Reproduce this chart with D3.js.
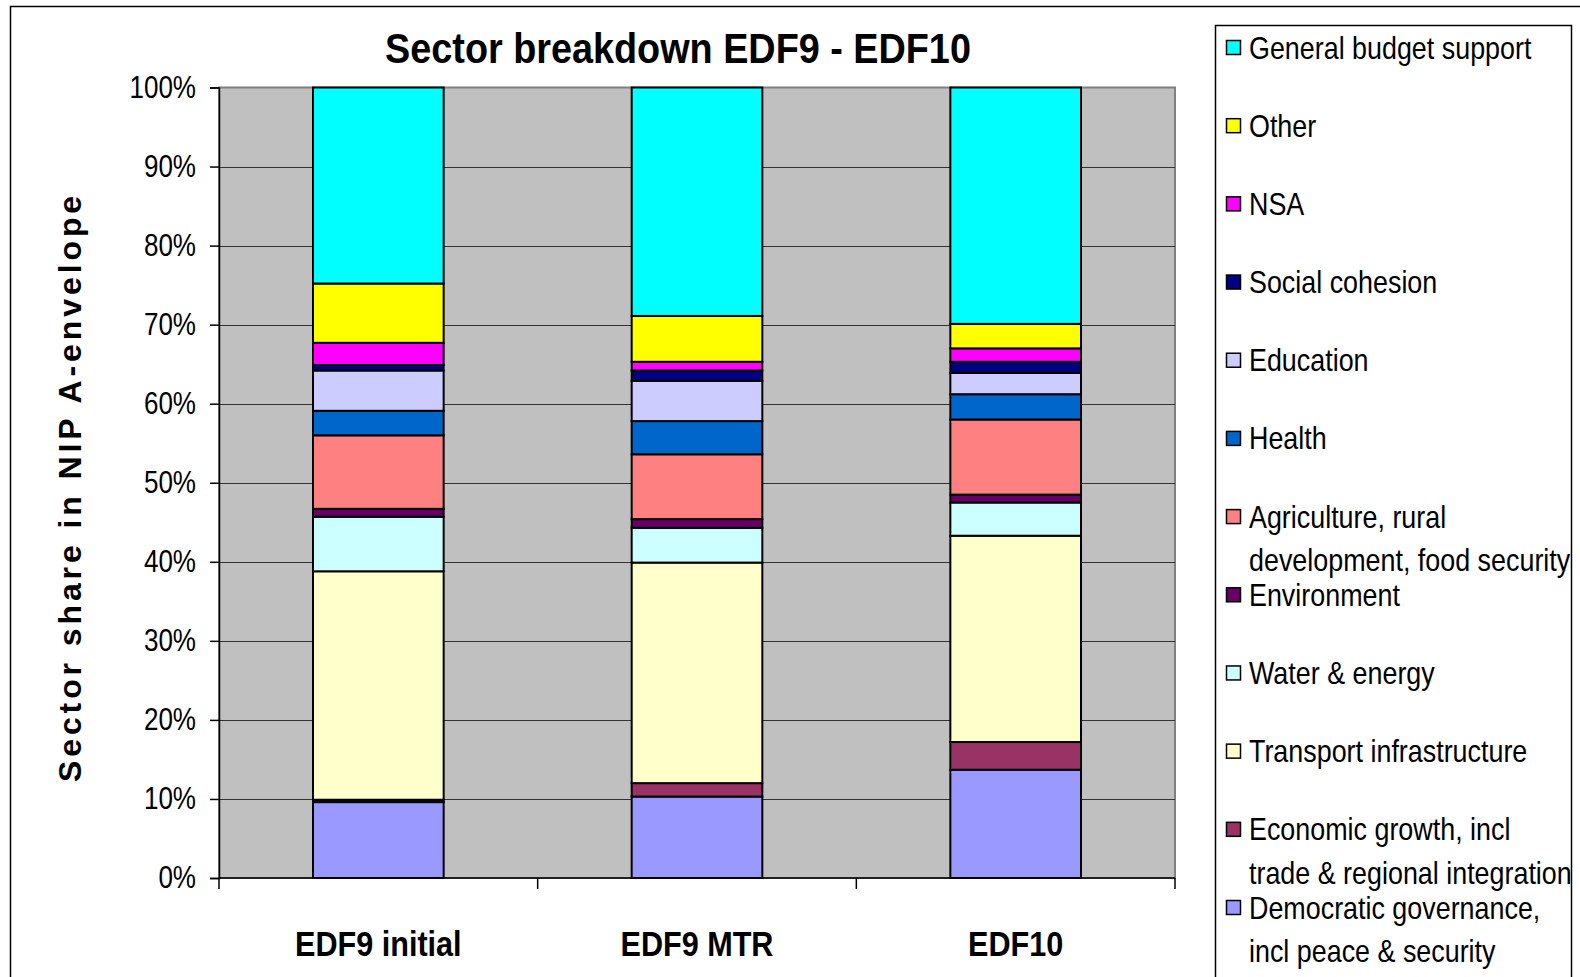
<!DOCTYPE html>
<html>
<head>
<meta charset="utf-8">
<script src="https://cdn.jsdelivr.net/npm/d3@7"></script>
<style>
  body { margin: 0; background: #fff; }
  svg { display: block; }
  text { font-family: "Liberation Sans", Arial, sans-serif; }
</style>
</head>
<body>
<svg width="1580" height="977"></svg>
<script>
const categories = ['EDF9 initial', 'EDF9 MTR', 'EDF10'];

// bottom to top, as stacked
const sectorKeys = ['dem', 'econ', 'transport', 'water', 'env', 'agri', 'health', 'edu', 'social', 'nsa', 'other', 'gbs'];
const sectorLabels = [
    ['Democratic governance,', 'incl peace & security'],
    ['Economic growth, incl', 'trade & regional integration'],
    ['Transport infrastructure'],
    ['Water & energy'],
    ['Environment'],
    ['Agriculture, rural', 'development, food security'],
    ['Health'],
    ['Education'],
    ['Social cohesion'],
    ['NSA'],
    ['Other'],
    ['General budget support']
];
const sectorColors = ['#9999FF', '#993366', '#FFFFCC', '#CCFFFF', '#660066', '#FF8080', '#0066CC', '#CCCCFF', '#000080', '#FF00FF', '#FFFF00', '#00FFFF'];

// share (%) per category
const dem       = [9.6, 10.3, 13.7];
const econ      = [0.3, 1.7, 3.5];
const transport = [28.9, 27.9, 26.1];
const water     = [6.9, 4.4, 4.2];
const env       = [1.0, 1.1, 1.0];
const agri      = [9.3, 8.2, 9.5];
const health    = [3.1, 4.2, 3.2];
const edu       = [5.1, 5.1, 2.7];
const social    = [0.7, 1.3, 1.4];
const nsa       = [2.8, 1.1, 1.7];
const other     = [7.5, 5.8, 3.1];
const gbs       = [24.8, 28.9, 29.9];

const yTicks = [0, 10, 20, 30, 40, 50, 60, 70, 80, 90, 100];

const series = { dem, econ, transport, water, env, agri, health, edu, social, nsa, other, gbs };

const rows = categories.map((cat, i) => {
    let row = { cat: cat };
    sectorKeys.forEach(k => { row[k] = series[k][i]; });
    return row;
});

// no narrow font installed, so squeeze text horizontally
const narrow = 0.84;

const svg = d3.select('svg');

const plot = { left: 219, right: 1175, top: 87.5, bottom: 878 };

// outer chart frame
svg.append('rect')
    .attr('x', 10.5).attr('y', 6.5)
    .attr('width', 1600).attr('height', 1000)
    .attr('fill', 'none')
    .attr('stroke', '#000')
    .attr('stroke-width', 1.5);

const x = d3.scaleBand()
    .domain(categories)
    .range([plot.left, plot.right])
    .paddingInner(0.59)
    .paddingOuter(0.295);

const y = d3.scaleLinear()
    .domain([0, 100])
    .range([plot.bottom, plot.top]);

// plot area
svg.append('rect')
    .attr('x', plot.left).attr('y', plot.top)
    .attr('width', plot.right - plot.left)
    .attr('height', plot.bottom - plot.top)
    .attr('fill', '#C0C0C0')
    .attr('stroke', '#808080')
    .attr('stroke-width', 2);

// gridlines
svg.append('g')
    .selectAll('line')
    .data(yTicks.filter(t => t > 0 && t < 100))
    .enter()
    .append('line')
        .attr('x1', plot.left).attr('x2', plot.right)
        .attr('y1', d => Math.round(y(d)) + 0.5)
        .attr('y2', d => Math.round(y(d)) + 0.5)
        .attr('stroke', '#333')
        .attr('stroke-width', 1);

// stacked bars
const stack = d3.stack().keys(sectorKeys);
const stacked = stack(rows);

svg.append('g')
    .selectAll('g')
    .data(stacked)
    .enter()
    .append('g')
        .attr('fill', (d, i) => sectorColors[i])
    .selectAll('rect')
    .data(d => d)
    .enter()
    .append('rect')
        .attr('x', d => x(d.data.cat))
        .attr('width', x.bandwidth())
        .attr('y', d => y(d[1]))
        .attr('height', d => y(d[0]) - y(d[1]))
        .attr('stroke', '#000')
        .attr('stroke-width', 2);

// y axis
const yAxis = svg.append('g')
    .attr('transform', `translate(${plot.left},0)`)
    .call(d3.axisLeft(y).tickValues(yTicks).tickFormat(d => d + '%').tickSize(9));

yAxis.select('.domain').attr('stroke', '#000').attr('stroke-width', 1.5);
yAxis.selectAll('.tick line').attr('stroke', '#000').attr('stroke-width', 1.5);
yAxis.selectAll('.tick text')
    .attr('font-size', 31)
    .attr('fill', '#000')
    .attr('x', -23 / narrow)
    .attr('transform', `scale(${narrow},1)`);

// x axis, ticks between categories
const xAxis = svg.append('g')
    .attr('transform', `translate(0,${plot.bottom})`);

xAxis.append('line')
    .attr('x1', plot.left).attr('x2', plot.right)
    .attr('stroke', '#000').attr('stroke-width', 1.5);

xAxis.selectAll('line.sep')
    .data(d3.range(categories.length + 1))
    .enter()
    .append('line')
        .attr('class', 'sep')
        .attr('x1', i => plot.left + i * (plot.right - plot.left) / categories.length)
        .attr('x2', i => plot.left + i * (plot.right - plot.left) / categories.length)
        .attr('y1', 0).attr('y2', 11)
        .attr('stroke', '#000').attr('stroke-width', 1.5);

xAxis.selectAll('text')
    .data(categories)
    .enter()
    .append('text')
        .attr('transform', d => `translate(${x(d) + x.bandwidth() / 2},78) scale(0.85,1)`)
        .attr('text-anchor', 'middle')
        .attr('font-size', 36)
        .attr('font-weight', 'bold')
        .text(d => d);

// title
svg.append('text')
    .attr('transform', 'translate(678,63) scale(0.9,1)')
    .attr('text-anchor', 'middle')
    .attr('font-size', 42)
    .attr('font-weight', 'bold')
    .text('Sector breakdown EDF9 - EDF10');

// y axis title
svg.append('text')
    .attr('transform', 'translate(81,487) rotate(-90)')
    .attr('text-anchor', 'middle')
    .attr('font-size', 32)
    .attr('font-weight', 'bold')
    .attr('letter-spacing', 3.9)
    .text('Sector share in NIP A-envelope');

// legend
svg.append('rect')
    .attr('x', 1215.5).attr('y', 25.5)
    .attr('width', 356).attr('height', 1000)
    .attr('fill', '#fff')
    .attr('stroke', '#000')
    .attr('stroke-width', 1.5);

const legendOrder = d3.range(sectorKeys.length).reverse();
const ly = d3.scalePoint()
    .domain(legendOrder)
    .range([47.5, 907.5]);

const legend = svg.append('g')
    .selectAll('g')
    .data(legendOrder)
    .enter()
    .append('g')
        .attr('transform', i => `translate(1226,${ly(i)})`);

legend.append('rect')
    .attr('x', 0.5).attr('y', -7)
    .attr('width', 14).attr('height', 14)
    .attr('fill', i => sectorColors[i])
    .attr('stroke', '#000')
    .attr('stroke-width', 1.5);

legend.append('text')
    .attr('transform', `translate(23,11) scale(${narrow},1)`)
    .attr('font-size', 32)
    .selectAll('tspan')
    .data(i => sectorLabels[i])
    .enter()
    .append('tspan')
        .attr('x', 0)
        .attr('dy', (d, j) => j === 0 ? 0 : 43.5)
        .text(d => d);
</script>
</body>
</html>
